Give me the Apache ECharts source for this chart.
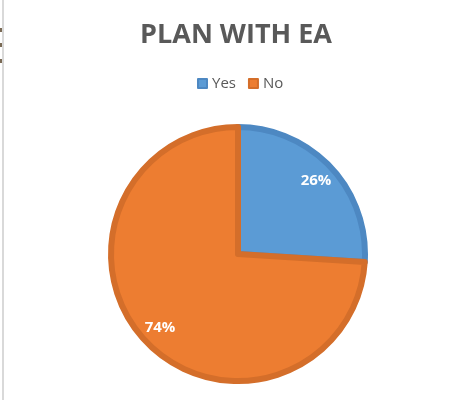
<!DOCTYPE html>
<html>
<head>
<meta charset="utf-8">
<title>Plan with EA</title>
<script src="https://cdn.jsdelivr.net/npm/echarts@6/dist/echarts.min.js"></script>
<style>
  html, body { margin: 0; padding: 0; background: #fff; }
  #chart { width: 472px; height: 400px; }
</style>
</head>
<body>
<div id="chart"></div>
<script>
// data
var categories = ['Yes', 'No'];
var values = [26, 74];
var colors = ['#5B9BD5', '#ED7D31'];
var borderColors = ['#4D88C2', '#D46E2A'];

var pieData = categories.map(function (name, i) {
    return {
        name: name,
        value: values[i],
        itemStyle: { color: colors[i], borderColor: borderColors[i] }
    };
});
// same values again, only to carry the labels further out
var labelData = categories.map(function (name, i) {
    return { name: name, value: values[i] };
});

var chart = echarts.init(document.getElementById('chart'));
var option = {
    animation: false,
    color: colors,
    title: {
        text: 'PLAN WITH EA',
        left: 'center',
        top: 17,
        textStyle: {
            fontFamily: 'Open Sans',
            fontWeight: 'bold',
            fontSize: 27,
            color: '#595959'
        }
    },
    legend: {
        data: categories,
        top: 71,
        left: 192,
        itemWidth: 9,
        itemHeight: 9,
        itemGap: 12,
        icon: 'rect',
        textStyle: { fontFamily: 'Open Sans', fontSize: 15, color: '#595959' }
    },
    graphic: [
        { type: 'rect', shape: { x: 2, y: 0, width: 2, height: 400 }, style: { fill: '#d9d9d9' } },
        { type: 'rect', shape: { x: 0, y: 28, width: 2, height: 4 }, style: { fill: '#7a6a55' } },
        { type: 'rect', shape: { x: 0, y: 43, width: 2, height: 4 }, style: { fill: '#7a6a55' } },
        { type: 'rect', shape: { x: 0, y: 59, width: 2, height: 4 }, style: { fill: '#7a6a55' } }
    ],
    series: [
        {
            type: 'pie',
            center: [238, 254],
            radius: 127,
            startAngle: 90,
            clockwise: true,
            label: { show: false },
            labelLine: { show: false },
            itemStyle: { borderWidth: 6 },
            emphasis: { disabled: true },
            data: pieData
        },
        {
            type: 'pie',
            center: [238, 254],
            radius: [78, 130],
            startAngle: 90,
            clockwise: true,
            silent: true,
            itemStyle: { color: 'transparent' },
            label: {
                show: true,
                position: 'inside',
                formatter: '{d}%',
                fontFamily: 'Open Sans',
                fontWeight: 'bold',
                fontSize: 15,
                color: '#fff'
            },
            labelLine: { show: false },
            emphasis: { disabled: true },
            data: labelData
        }
    ]
};
chart.setOption(option);
</script>
</body>
</html>
